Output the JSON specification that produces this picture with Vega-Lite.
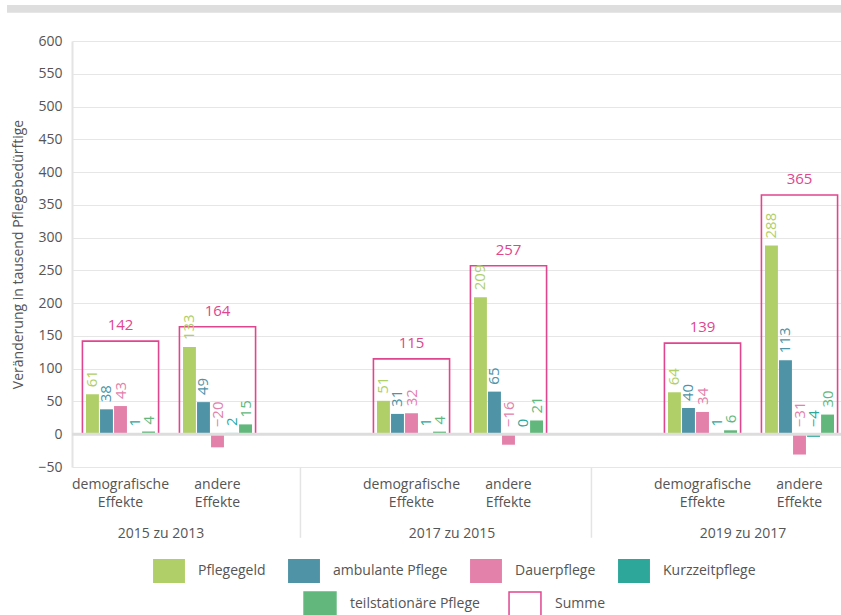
{
  "$schema": "https://vega.github.io/schema/vega-lite/v6.json",
  "width": 769,
  "height": 426,
  "padding": {"left": 7, "top": 4, "right": 0, "bottom": 0},
  "autosize": {"type": "pad"},
  "config": {
    "font": "Open Sans",
    "view": {"stroke": null},
    "legend": {"layout": {"bottom": {"anchor": "middle", "direction": "vertical", "margin": 8, "center": true}}}
  },
  "datasets": {
    "bars": [
      {"cat": "d1", "series": "Pflegegeld", "value": 61},
      {"cat": "d1", "series": "ambulante Pflege", "value": 38},
      {"cat": "d1", "series": "Dauerpflege", "value": 43},
      {"cat": "d1", "series": "Kurzzeitpflege", "value": 1},
      {"cat": "d1", "series": "teilstationäre Pflege", "value": 4},
      {"cat": "a1", "series": "Pflegegeld", "value": 133},
      {"cat": "a1", "series": "ambulante Pflege", "value": 49},
      {"cat": "a1", "series": "Dauerpflege", "value": -20},
      {"cat": "a1", "series": "Kurzzeitpflege", "value": 2},
      {"cat": "a1", "series": "teilstationäre Pflege", "value": 15},
      {"cat": "d2", "series": "Pflegegeld", "value": 51},
      {"cat": "d2", "series": "ambulante Pflege", "value": 31},
      {"cat": "d2", "series": "Dauerpflege", "value": 32},
      {"cat": "d2", "series": "Kurzzeitpflege", "value": 1},
      {"cat": "d2", "series": "teilstationäre Pflege", "value": 4},
      {"cat": "a2", "series": "Pflegegeld", "value": 209},
      {"cat": "a2", "series": "ambulante Pflege", "value": 65},
      {"cat": "a2", "series": "Dauerpflege", "value": -16},
      {"cat": "a2", "series": "Kurzzeitpflege", "value": 0},
      {"cat": "a2", "series": "teilstationäre Pflege", "value": 21},
      {"cat": "d3", "series": "Pflegegeld", "value": 64},
      {"cat": "d3", "series": "ambulante Pflege", "value": 40},
      {"cat": "d3", "series": "Dauerpflege", "value": 34},
      {"cat": "d3", "series": "Kurzzeitpflege", "value": 1},
      {"cat": "d3", "series": "teilstationäre Pflege", "value": 6},
      {"cat": "a3", "series": "Pflegegeld", "value": 288},
      {"cat": "a3", "series": "ambulante Pflege", "value": 113},
      {"cat": "a3", "series": "Dauerpflege", "value": -31},
      {"cat": "a3", "series": "Kurzzeitpflege", "value": -4},
      {"cat": "a3", "series": "teilstationäre Pflege", "value": 30}
    ],
    "sums": [
      {"cat": "d1", "key": "Summe", "total": 142},
      {"cat": "a1", "key": "Summe", "total": 164},
      {"cat": "d2", "key": "Summe", "total": 115},
      {"cat": "a2", "key": "Summe", "total": 257},
      {"cat": "d3", "key": "Summe", "total": 139},
      {"cat": "a3", "key": "Summe", "total": 365}
    ],
    "periods": [
      {"cat": "d1", "label": "2015 zu 2013"},
      {"cat": "d2", "label": "2017 zu 2015"},
      {"cat": "d3", "label": "2019 zu 2017"}
    ],
    "seps": [
      {"cat": "g1"},
      {"cat": "g2"}
    ]
  },
  "layer": [
    {
      "data": {"values": [{"part": "strip"}]},
      "mark": {"type": "rect", "color": "#dedede"},
      "encoding": {
        "x": {"datum": -0.0845, "type": "quantitative", "scale": {"domain": [0, 1], "nice": false, "zero": false}, "axis": null},
        "x2": {"datum": 1.0},
        "y": {
          "datum": 643, "type": "quantitative", "scale": {"domain": [-50, 600], "nice": false},
          "axis": {
            "title": "Veränderung in tausend Pflegebedürftige",
            "titleFontSize": 14, "titleFontWeight": "normal", "titleColor": "#555555", "titlePadding": 12,
            "values": [-50, 0, 50, 100, 150, 200, 250, 300, 350, 400, 450, 500, 550, 600], "tickCount": 20,
            "grid": true, "labelOverlap": false,
            "ticks": false, "labelFontSize": 14, "labelColor": "#555555", "labelPadding": 10,
            "domainColor": "#e4e4e4", "domainWidth": 2,
            "gridColor": "#e6e6e6", "gridWidth": 1.2
          }
        },
        "y2": {"datum": 655}
      }
    },
    {
      "layer": [
        {
          "data": {"name": "bars"},
          "mark": {"type": "bar"},
          "encoding": {
            "x": {
              "field": "cat", "type": "nominal",
              "scale": {"domain": ["d1", "a1", "g1", "d2", "a2", "g2", "d3", "a3"], "range": [0, 776], "paddingInner": 0, "paddingOuter": 0},
              "axis": {
                "title": null, "ticks": false, "domain": false, "grid": false,
                "labelExpr": "substring(datum.value,0,1)=='d' ? ['demografische','Effekte'] : substring(datum.value,0,1)=='a' ? ['andere','Effekte'] : ''",
                "labelFontSize": 14, "labelColor": "#555555", "labelPadding": 10, "labelLineHeight": 18,
                "labelAngle": 0, "labelBaseline": "top", "labelOverlap": false
              }
            },
            "xOffset": {
              "field": "series", "type": "nominal",
              "scale": {"domain": ["Pflegegeld", "ambulante Pflege", "Dauerpflege", "Kurzzeitpflege", "teilstationäre Pflege"], "paddingInner": 0.08, "paddingOuter": 1.19}
            },
            "y": {
              "field": "value", "type": "quantitative",
              "scale": {"domain": [-50, 600], "nice": false},
              "axis": {
                "title": "Veränderung in tausend Pflegebedürftige",
                "titleFontSize": 14, "titleFontWeight": "normal", "titleColor": "#555555", "titlePadding": 12,
                "values": [-50, 0, 50, 100, 150, 200, 250, 300, 350, 400, 450, 500, 550, 600], "tickCount": 20,
                "grid": true, "labelOverlap": false,
                "ticks": false, "labelFontSize": 14, "labelColor": "#555555", "labelPadding": 10,
                "domainColor": "#e4e4e4", "domainWidth": 2,
                "gridColor": "#e6e6e6", "gridWidth": 1.2
              }
            },
            "color": {
              "field": "series", "type": "nominal",
              "scale": {
                "domain": ["Pflegegeld", "ambulante Pflege", "Dauerpflege", "Kurzzeitpflege", "teilstationäre Pflege"],
                "range": ["#b1cf68", "#4f93a6", "#e381ab", "#2ea79b", "#62b87c"]
              },
              "legend": {
                "title": null, "orient": "bottom", "direction": "horizontal", "offset": 50,
                "values": ["Pflegegeld", "ambulante Pflege", "Dauerpflege", "Kurzzeitpflege"],
                "symbolType": "M-1.33,-1H1.33V1H-1.33Z", "symbolSize": 576, "symbolStrokeWidth": 0, "symbolOpacity": 1,
                "labelFontSize": 14, "labelColor": "#555555", "labelOffset": 17, "columnPadding": 22
              }
            }
          }
        },
        {
          "data": {"name": "sums"},
          "mark": {"type": "bar", "strokeWidth": 1.6, "width": {"band": 0.785}},
          "encoding": {
            "x": {"field": "cat", "type": "nominal"},
            "y": {"field": "total", "type": "quantitative"},
            "fill": {
              "field": "key", "type": "nominal",
              "scale": {"domain": ["teilstationäre Pflege", "Summe"], "range": ["#62b87c", "transparent"]},
              "legend": {
                "title": null, "orient": "bottom", "direction": "horizontal", "offset": 50,
                "symbolType": "M-1.33,-1H1.33V1H-1.33Z", "symbolSize": 576, "symbolStrokeWidth": 1.5, "symbolOpacity": 1,
                "labelFontSize": 14, "labelColor": "#555555", "labelOffset": 17, "columnPadding": 26
              }
            },
            "stroke": {
              "field": "key", "type": "nominal",
              "scale": {"domain": ["teilstationäre Pflege", "Summe"], "range": ["#62b87c", "#e0458f"]},
              "legend": {
                "title": null, "orient": "bottom", "direction": "horizontal", "offset": 50,
                "symbolType": "M-1.33,-1H1.33V1H-1.33Z", "symbolSize": 576, "symbolStrokeWidth": 1.5, "symbolOpacity": 1,
                "labelFontSize": 14, "labelColor": "#555555", "labelOffset": 17, "columnPadding": 26
              }
            }
          }
        },
        {
          "data": {"values": [{"line": "zero"}]},
          "mark": {"type": "rule", "color": "#dddddd", "strokeWidth": 3},
          "encoding": {
            "y": {"datum": 0, "type": "quantitative"}
          }
        },
        {
          "data": {"name": "bars"},
          "transform": [{"calculate": "max(datum.value, 0)", "as": "labelY"}],
          "mark": {"type": "text", "angle": 270, "align": "left", "baseline": "middle", "dx": 7, "fontSize": 15},
          "encoding": {
            "x": {"field": "cat", "type": "nominal"},
            "xOffset": {"field": "series", "type": "nominal"},
            "y": {"field": "labelY", "type": "quantitative"},
            "text": {"field": "value", "type": "quantitative", "format": "d"},
            "color": {"field": "series", "type": "nominal"}
          }
        },
        {
          "data": {"name": "sums"},
          "mark": {"type": "text", "baseline": "alphabetic", "dy": -11, "fontSize": 15, "color": "#e0458f"},
          "encoding": {
            "x": {"field": "cat", "type": "nominal"},
            "y": {"field": "total", "type": "quantitative"},
            "text": {"field": "total", "type": "quantitative", "format": "d"}
          }
        },
        {
          "data": {"name": "periods"},
          "mark": {"type": "text", "baseline": "middle", "dy": 67, "dx": -8, "fontSize": 14, "color": "#555555"},
          "encoding": {
            "x": {"field": "cat", "type": "nominal", "bandPosition": 1},
            "y": {"datum": -50, "type": "quantitative"},
            "text": {"field": "label", "type": "nominal"}
          }
        },
        {
          "data": {"name": "seps"},
          "mark": {"type": "rule", "color": "#e4e4e4", "strokeWidth": 1.5},
          "encoding": {
            "x": {"field": "cat", "type": "nominal", "bandPosition": 0.355},
            "y": {"datum": -50, "type": "quantitative"},
            "y2": {"datum": -158}
          }
        }
      ]
    }
  ],
  "resolve": {"scale": {"x": "independent"}, "axis": {"x": "independent"}}
}
